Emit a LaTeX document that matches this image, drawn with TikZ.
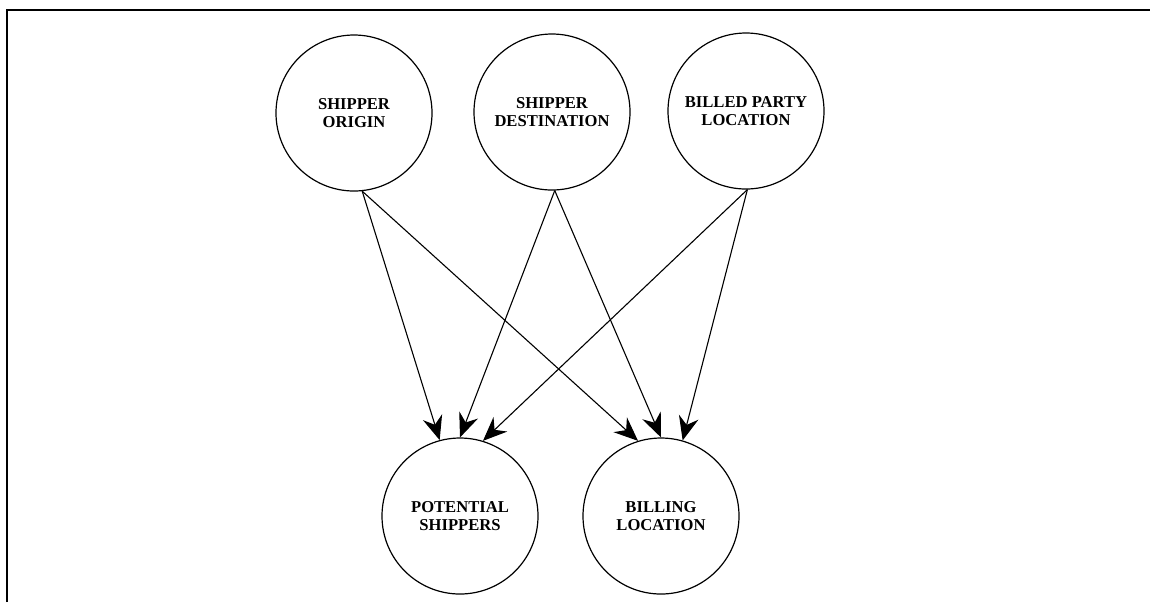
\documentclass[tikz,border=0pt]{standalone}
\usepackage{fontspec}
\setmainfont{Liberation Serif}
\usetikzlibrary{arrows.meta}
\tikzset{
  ent/.style={circle, draw, line width=0.6pt, minimum size=78pt, inner sep=0pt,
    align=center, font=\bfseries\fontsize{8.3}{9}\selectfont},
  link/.style={line width=0.55pt, -{Stealth[length=12pt, width=10pt, inset=4pt]}},
  frameline/.style={line width=1.4pt}
}
\begin{document}
\begin{tikzpicture}[x=0.5pt, y=-0.5pt]
\useasboundingbox (0,0) rectangle (1150,602);
\coordinate (fa) at (7,602);
\coordinate (fb) at (7,10);
\coordinate (fc) at (1150,10);
\draw[frameline] (fa) -- (fb) -- (fc);

\node[ent] (o) at (354,113) {SHIPPER\\ORIGIN};
\node[ent] (d) at (552,112) {SHIPPER\\DESTINATION};
\node[ent] (b) at (746,111) {BILLED PARTY\\LOCATION};
\node[ent] (p) at (460,516) {POTENTIAL\\SHIPPERS};
\node[ent] (l) at (661,516) {BILLING\\LOCATION};

\draw[link] (o.276) -- (p.105);
\draw[link] (o.276) -- (l.107);
\draw[link] (d.272) -- (p.90);
\draw[link] (d.272) -- (l.90);
\draw[link] (b.271) -- (p.73);
\draw[link] (b.271) -- (l.74);
\end{tikzpicture}
\end{document}
